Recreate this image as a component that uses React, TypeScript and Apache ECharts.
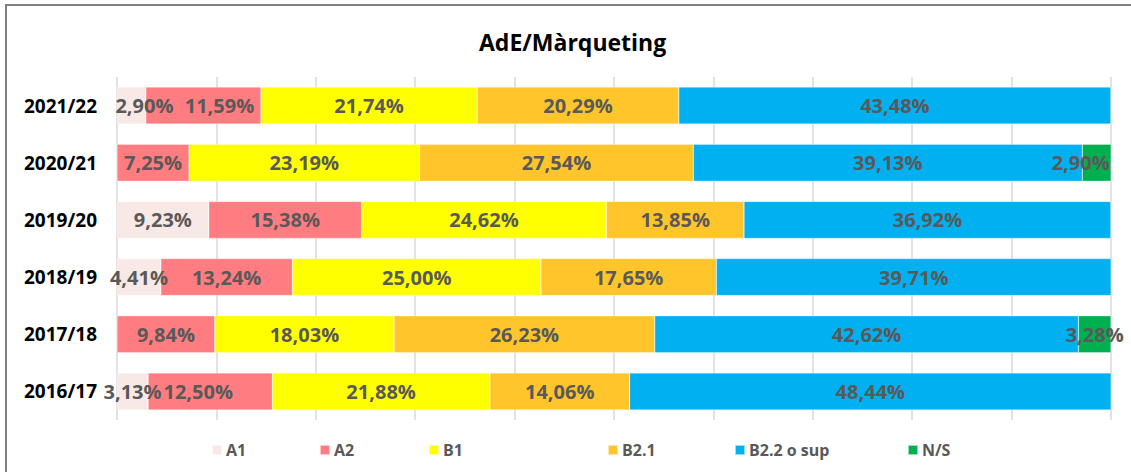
import React, { useEffect, useRef } from "react";
import * as echarts from "echarts";

const categories = ["2021/22", "2020/21", "2019/20", "2018/19", "2017/18", "2016/17"];
const seriesNames = ["A1", "A2", "B1", "B2.1", "B2.2 o sup", "N/S"];
const A1 = [2.9, 0, 9.23, 4.41, 0, 3.13];
const A2 = [11.59, 7.25, 15.38, 13.24, 9.84, 12.5];
const B1 = [21.74, 23.19, 24.62, 25.0, 18.03, 21.88];
const B21 = [20.29, 27.54, 13.85, 17.65, 26.23, 14.06];
const B22 = [43.48, 39.13, 36.92, 39.71, 42.62, 48.44];
const NS = [0, 2.9, 0, 0, 3.28, 0];
const colors = ["#F9E9E6", "#FF7C80", "#FFFF00", "#FFC52B", "#00B0F0", "#00B050"];
const xTicks = [0, 10, 20, 30, 40, 50, 60, 70, 80, 90, 100];

const values = [A1, A2, B1, B21, B22, NS];
// label nudges (series index -> category index -> px offset)
const labelNudge: Record<string, number> = { "0-0": 13, "1-0": 16, "1-5": -12, "5-1": -16 };
const legendLeft = [206, 314, 423, 602, 729, 902];

export default function App() {
  const ref = useRef<HTMLDivElement>(null);
  useEffect(() => {
    if (!ref.current) return;
    const chart = echarts.init(ref.current, undefined, { renderer: "svg" });
    const font = "'Open Sans', sans-serif";
    const series = seriesNames.map((name, si) => ({
      name,
      type: "bar",
      stack: "total",
      barWidth: 37,
      itemStyle: { color: colors[si], borderColor: "rgba(255,255,255,0.6)", borderWidth: 0.5 },
      label: {
        show: true,
        position: "inside",
        color: "#595959",
        fontFamily: font,
        fontWeight: "bold",
        fontSize: 20,
        formatter: (p: any) => (p.value > 0 ? p.value.toFixed(2).replace(".", ",") + "%" : ""),
      },
      data: values[si].map((v, ci) => {
        const nudge = labelNudge[`${si}-${ci}`];
        return nudge ? { value: v, label: { offset: [nudge, 0] } } : v;
      }),
    }));
    chart.setOption({
      animation: false,
      backgroundColor: "#ffffff",
      title: {
        text: "AdE/Màrqueting",
        left: 474,
        top: 25,
        textStyle: { fontFamily: font, fontWeight: "bold", fontSize: 23, color: "#000" },
      },
      graphic: [
        {
          type: "rect",
          z: 100,
          silent: true,
          shape: { x: 6, y: 5, width: 1160, height: 500 },
          style: { stroke: "#7f7f7f", lineWidth: 2, fill: "rgba(0,0,0,0)" },
        },
      ],
      legend: seriesNames.map((n, i) => ({
        data: [n],
        left: legendLeft[i],
        top: 437,
        itemWidth: 10,
        itemHeight: 10,
        itemGap: 4,
        icon: "rect",
        textStyle: { fontFamily: font, fontWeight: "bold", fontSize: 16, color: "#595959", padding: [0, 0, 0, -1] },
        selectedMode: false,
      })),
      grid: { left: 117, right: 20, top: 77, bottom: 52, containLabel: false },
      xAxis: {
        type: "value",
        min: xTicks[0],
        max: xTicks[xTicks.length - 1],
        interval: 10,
        axisLabel: { show: false },
        axisLine: { show: false },
        axisTick: { show: false },
        splitLine: { show: true, lineStyle: { color: "#D9D9D9", width: 1.5 } },
      },
      yAxis: {
        type: "category",
        inverse: true,
        data: categories,
        axisLine: { show: false },
        axisTick: { show: false },
        axisLabel: { color: "#000", fontFamily: font, fontWeight: "bold", fontSize: 19, margin: 20 },
      },
      series,
    });
    return () => chart.dispose();
  }, []);
  return <div ref={ref} style={{ position: "fixed", left: 0, top: 0, width: 1131, height: 472 }} />;
}
